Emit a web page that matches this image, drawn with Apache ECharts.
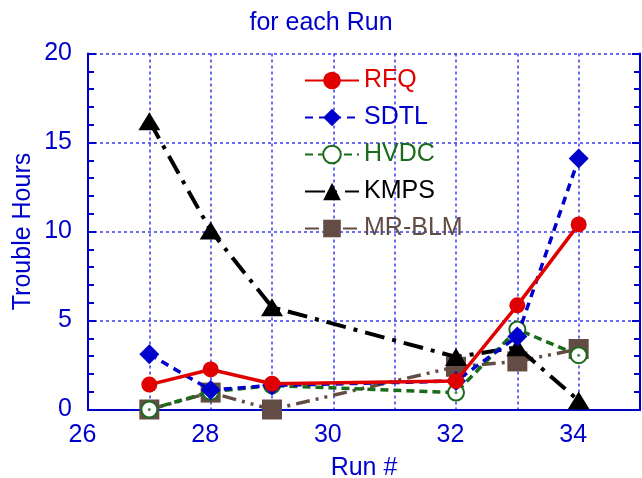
<!DOCTYPE html>
<html>
<head>
<meta charset="utf-8">
<script src="https://cdn.jsdelivr.net/npm/echarts@6/dist/echarts.min.js"></script>
<style>
  html, body { margin: 0; padding: 0; background: #ffffff; }
  #main { width: 642px; height: 478px; }
</style>
</head>
<body>
<div id="main"></div>
<script>
// run numbers (x) and trouble hours per system
const runs = [27, 28, 29, 32, 33, 34];
const rfq = [1.4, 2.25, 1.45, 1.6, 5.85, 10.4];
const sdtl = [3.1, 1.1, 1.35, 1.6, 4.1, 14.1];
const hvdc = [0, 1.0, 1.35, 0.95, 4.5, 3.05];
const kmps = [16.2, 10.05, 5.75, 2.95, 3.5, 0.5];
const mrblm = [0, 0.95, 0, 2.4, 2.7, 3.4];

const xTicks = [26, 28, 30, 32, 34];
const yTicks = [0, 5, 10, 15, 20];

const AXIS_BLUE = '#0000cc';
const GRID_BLUE = '#3b3bf0';
const FONT = 'Liberation Sans';
const FS = 25;

const pairs = arr => runs.map((r, i) => [r, arr[i]]);

const chart = echarts.init(document.getElementById('main'));

const baseAxis = {
    axisLine: { show: true, lineStyle: { color: AXIS_BLUE, width: 2 } },
    axisLabel: { color: AXIS_BLUE, fontSize: FS, fontFamily: FONT },
    nameTextStyle: { color: AXIS_BLUE, fontSize: FS, fontFamily: FONT }
};

const option = {
    backgroundColor: '#ffffff',
    animation: false,
    title: {
        text: 'for each Run',
        left: 'center',
        top: 6,
        textStyle: { color: AXIS_BLUE, fontSize: FS, fontWeight: 'normal', fontFamily: FONT }
    },
    grid: { left: 88, right: 2, top: 53.5, bottom: 68.5, outerBoundsMode: 'none', containLabel: false },
    legend: {
        orient: 'vertical',
        left: 299,
        top: 63,
        itemWidth: 54,
        itemHeight: 22,
        itemGap: 12,
        textStyle: { fontSize: FS, fontFamily: FONT },
        data: [
            { name: 'RFQ', textStyle: { color: '#e00000' } },
            { name: 'SDTL', textStyle: { color: '#0000cc' } },
            { name: 'HVDC', textStyle: { color: '#1a6b1a' } },
            { name: 'KMPS', textStyle: { color: '#000000' } },
            { name: 'MR-BLM', textStyle: { color: '#634c44' } }
        ]
    },
    xAxis: [
        Object.assign({}, baseAxis, {
            type: 'value',
            min: 26,
            max: 35,
            interval: 1,
            name: 'Run #',
            nameLocation: 'middle',
            nameGap: 46,
            axisTick: { show: false },
            axisLabel: Object.assign({}, baseAxis.axisLabel, {
                margin: 13,
                padding: [0, 11, 0, 0],
                formatter: v => (xTicks.includes(v) ? String(v) : '')
            }),
            splitLine: { show: true, lineStyle: { color: GRID_BLUE, type: [3, 3], width: 1.5 } }
        }),
        {
            type: 'value', position: 'top', min: 26, max: 35, interval: 1,
            axisLine: { show: true, lineStyle: { color: AXIS_BLUE, width: 2 } },
            axisTick: { show: false }, axisLabel: { show: false }, splitLine: { show: false }
        }
    ],
    yAxis: [
        Object.assign({}, baseAxis, {
            type: 'value',
            min: 0,
            max: 20,
            interval: 5,
            name: 'Trouble Hours',
            nameLocation: 'middle',
            nameGap: 52,
            nameMoveOverlap: false,
            axisTick: { show: true, inside: true, length: 8, lineStyle: { color: AXIS_BLUE, width: 2 } },
            minorTick: { show: true, splitNumber: 5, length: 6, lineStyle: { color: AXIS_BLUE, width: 2 } },
            axisLabel: Object.assign({}, baseAxis.axisLabel, {
                margin: 16,
                formatter: v => (yTicks.includes(v) ? String(v) : '')
            }),
            splitLine: { show: true, lineStyle: { color: GRID_BLUE, type: [3, 3], width: 1.5 } }
        }),
        {
            type: 'value', position: 'right', min: 0, max: 20, interval: 5,
            axisLine: { show: true, lineStyle: { color: AXIS_BLUE, width: 2 } },
            axisTick: { show: true, inside: true, length: 8, lineStyle: { color: AXIS_BLUE, width: 2 } },
            minorTick: { show: true, splitNumber: 5, length: 6, lineStyle: { color: AXIS_BLUE, width: 2 } },
            axisLabel: { show: false }, splitLine: { show: false }
        }
    ],
    series: [
        {
            name: 'MR-BLM', type: 'line', data: pairs(mrblm), z: 2,
            symbol: 'rect', symbolSize: 20,
            itemStyle: { color: '#634c44' },
            lineStyle: { color: '#634c44', width: 3.5, type: [14, 6, 3, 6, 3, 6] }
        },
        {
            name: 'KMPS', type: 'line', data: pairs(kmps), z: 3,
            symbol: 'triangle', symbolSize: [22, 18],
            itemStyle: { color: '#000000' },
            lineStyle: { color: '#000000', width: 4, type: [20, 8, 4, 8] }
        },
        {
            name: 'HVDC', type: 'line', data: pairs(hvdc), z: 4,
            symbol: 'circle', symbolSize: 16,
            itemStyle: { color: '#ffffff', borderColor: '#1a6b1a', borderWidth: 2 },
            lineStyle: { color: '#1a6b1a', width: 3.5, type: [8, 5] }
        },
        {
            name: 'HVDC-dot', type: 'scatter', data: pairs(hvdc), z: 5,
            symbol: 'circle', symbolSize: 3, silent: true,
            itemStyle: { color: '#1a6b1a' }
        },
        {
            name: 'SDTL', type: 'line', data: pairs(sdtl), z: 6,
            symbol: 'diamond', symbolSize: 20,
            itemStyle: { color: '#0000cc' },
            lineStyle: { color: '#0000cc', width: 3.5, type: [8, 6] }
        },
        {
            name: 'RFQ', type: 'line', data: pairs(rfq), z: 7,
            symbol: 'circle', symbolSize: 16,
            itemStyle: { color: '#e00000' },
            lineStyle: { color: '#e00000', width: 3.5 }
        }
    ]
};

chart.setOption(option);
</script>
</body>
</html>
